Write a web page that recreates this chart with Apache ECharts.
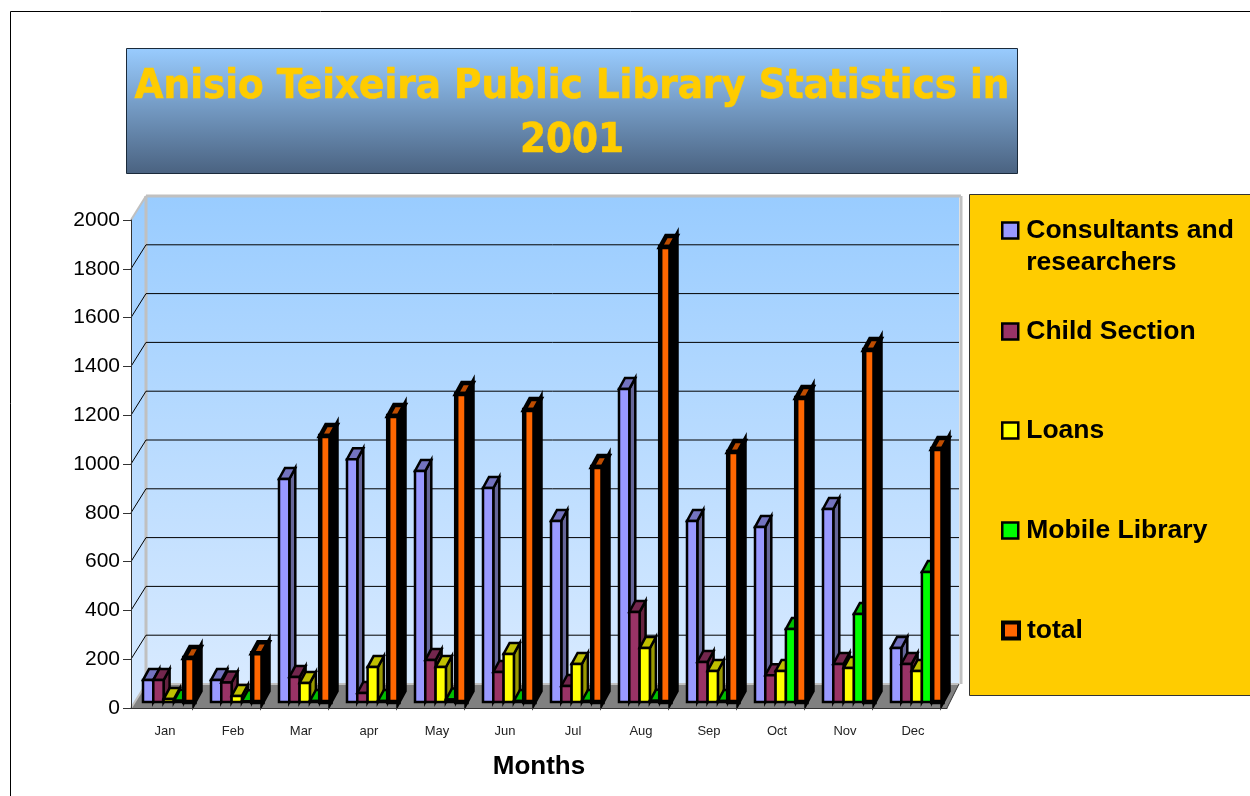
<!DOCTYPE html>
<html>
<head>
<meta charset="utf-8">
<title>Anisio Teixeira Public Library Statistics in 2001</title>
<style>
  html, body { margin: 0; padding: 0; background: #fff; }
  #chart { width: 1250px; height: 796px; }
</style>
</head>
<body>
<div id="chart"></div>
<script src="https://cdn.jsdelivr.net/npm/echarts@6/dist/echarts.min.js"></script>
<script>
const months = ['Jan', 'Feb', 'Mar', 'apr', 'May', 'Jun', 'Jul', 'Aug', 'Sep', 'Oct', 'Nov', 'Dec'];
const seriesNames = ['Consultants and\nresearchers', 'Child Section', 'Loans', 'Mobile Library', 'total'];
const consultants = [90, 90, 914, 995, 947, 877, 742, 1283, 742, 717, 791, 221];
const childSection = [90, 80, 102, 37, 172, 123, 66, 369, 164, 110, 156, 156];
const loans = [12, 25, 78, 143, 143, 197, 156, 221, 127, 127, 139, 127];
const mobileLibrary = [5, 3, 4, 4, 10, 4, 4, 5, 4, 299, 361, 533];
const total = [180, 200, 1090, 1172, 1262, 1197, 963, 1865, 1025, 1246, 1443, 1037];
const yTicks = [200, 400, 600, 800, 1000, 1200, 1400, 1600, 1800];

const frontColors = ['#9999FF', '#993366', '#FFFF00', '#00FF00', '#FF6600'];
const topColors = ['#7373BF', '#73264D', '#BFBF00', '#00BF00', '#BF4D00'];
const sideColors = ['#666699', '#66223F', '#999900', '#009900', '#000000'];
const lineWidths = [2.5, 2.5, 2.5, 2.5, 4.5];
const legendTops = [180, 313, 412, 512, 612];

const wallBackLeft = 15;
const wallBackRight = 12;
const wallRise = 24;
const barWidth = 10.3;
const barDepthX = 6;
const barDepthY = 11;
const barLift = 6;
const barStart = 12;

const wallFill = new echarts.graphic.LinearGradient(0, 0, 0, 1, [
  { offset: 0, color: '#99CCFF' },
  { offset: 1, color: '#D8EAFF' },
]);

// walls and floor, positions come from the axis scales
function renderWalls(params, api) {
  const origin = api.coord([0, 0]);
  const band = api.size([1, 0])[0];
  const x0 = origin[0] - band / 2;
  const x1 = x0 + band * months.length;
  const y0 = origin[1];
  const yTop = api.coord([0, 2000])[1];
  const bx0 = x0 + wallBackLeft;
  const bx1 = x1 + wallBackRight;
  const gray = '#C0C0C0';
  const poly = (points, style) => ({ type: 'polygon', shape: { points }, style });
  const line = (x1, y1, x2, y2, stroke, lineWidth) => ({
    type: 'line',
    shape: { x1, y1, x2, y2 },
    style: { stroke, lineWidth },
  });
  return {
    type: 'group',
    children: [
      poly([[bx0, yTop - wallRise], [bx1, yTop - wallRise], [bx1, y0 - wallRise], [bx0, y0 - wallRise]], { fill: wallFill }),
      poly([[x0, yTop], [bx0, yTop - wallRise], [bx0, y0 - wallRise], [x0, y0]], { fill: wallFill }),
      poly([[x0, y0], [bx0, y0 - wallRise], [bx1, y0 - wallRise], [x1, y0]], { fill: '#808080' }),
      line(bx0, yTop - wallRise, bx1 + 2, yTop - wallRise, gray, 3),
      line(bx0, yTop - wallRise, bx0, y0 - wallRise, gray, 3),
      line(bx1 + 2, yTop - wallRise, bx1 + 2, y0 - wallRise, gray, 3),
      line(x0, yTop, bx0, yTop - wallRise, gray, 2),
      line(x0, y0, bx0, y0 - wallRise, gray, 2),
      line(bx0, y0 - wallRise, bx1, y0 - wallRise, gray, 2),
      line(x1, y0, bx1, y0 - wallRise, '#333', 1),
    ],
  };
}

function renderGridLine(params, api) {
  const p = api.coord([0, api.value(1)]);
  const band = api.size([1, 0])[0];
  const x0 = p[0] - band / 2;
  const x1 = x0 + band * months.length;
  const style = { stroke: '#000', lineWidth: 1 };
  return {
    type: 'group',
    children: [
      { type: 'line', shape: { x1: x0 + wallBackLeft, y1: p[1] - wallRise, x2: x1 + wallBackRight, y2: p[1] - wallRise }, style },
      { type: 'line', shape: { x1: x0, y1: p[1], x2: x0 + wallBackLeft, y2: p[1] - wallRise }, style },
    ],
  };
}

function barRenderer(idx) {
  return function (params, api) {
    const top = api.coord([api.value(0), api.value(1)]);
    const base = api.coord([api.value(0), 0]);
    const band = api.size([1, 0])[0];
    const x0 = top[0] - band / 2 + barStart + barWidth * idx;
    const x1 = x0 + barWidth;
    const yb = base[1] - barLift;
    const yt = top[1] - barLift;
    const edge = { stroke: '#000', lineWidth: lineWidths[idx], lineJoin: 'miter' };
    return {
      type: 'group',
      children: [
        {
          type: 'polygon',
          shape: { points: [[x1, yb], [x1 + barDepthX, yb - barDepthY], [x1 + barDepthX, yt - barDepthY], [x1, yt]] },
          style: { fill: sideColors[idx], ...edge },
        },
        {
          type: 'polygon',
          shape: { points: [[x0, yt], [x1, yt], [x1 + barDepthX, yt - barDepthY], [x0 + barDepthX, yt - barDepthY]] },
          style: { fill: topColors[idx], ...edge },
        },
        {
          type: 'polygon',
          shape: { points: [[x0, yb], [x1, yb], [x1, yt], [x0, yt]] },
          style: { fill: frontColors[idx], ...edge },
        },
      ],
    };
  };
}

const barData = [consultants, childSection, loans, mobileLibrary, total];

// marker sits beside the first line of a wrapped name, so wrapped names get an empty line on top
function legendLabel(name) {
  const lines = name.split('\n').map((l) => `{t|${l}}`);
  if (lines.length > 1) lines.unshift('{t| }');
  return lines.join('\n');
}

const chart = echarts.init(document.getElementById('chart'), null, { renderer: 'canvas' });
chart.setOption({
  animation: false,
  backgroundColor: '#fff',
  textStyle: { fontFamily: 'Liberation Sans' },
  title: {
    text: 'Anisio Teixeira Public Library Statistics in\n2001',
    left: 567,
    top: 55,
    textAlign: 'center',
    textStyle: {
      color: '#FFCC00',
      fontFamily: '"DejaVu Sans Condensed", "DejaVu Sans"',
      fontSize: 41.6,
      fontWeight: 'bold',
      textBorderColor: '#FFCC00',
      textBorderWidth: 0.6,
      lineHeight: 54,
    },
    z: 10,
  },
  legend: seriesNames.map((name, i) => ({
    left: 996,
    top: legendTops[i],
    orient: 'vertical',
    icon: 'rect',
    itemWidth: 16,
    itemHeight: 16,
    itemGap: 0,
    selectedMode: false,
    data: [{
      name,
      itemStyle: { color: frontColors[i], borderColor: '#000', borderWidth: i === 4 ? 4 : 2.5 },
    }],
    formatter: legendLabel,
    textStyle: {
      color: '#000',
      rich: {
        t: {
          color: '#000',
          fontFamily: 'Liberation Sans',
          fontSize: 26.5,
          fontWeight: 'bold',
          lineHeight: 32,
          padding: [0, 0, 0, 3],
        },
      },
    },
  })),
  grid: { left: 131, top: 220, width: 816, height: 488, containLabel: false },
  xAxis: {
    type: 'category',
    data: months,
    z: 5,
    name: 'Months',
    nameLocation: 'middle',
    nameGap: 46,
    nameTextStyle: { color: '#000', fontSize: 26, fontWeight: 'bold', fontFamily: 'Liberation Sans' },
    axisLine: { lineStyle: { color: '#333', width: 1 } },
    axisTick: { alignWithLabel: false, length: 8, lineStyle: { color: '#333' } },
    axisLabel: { color: '#222', fontSize: 13, margin: 17, fontFamily: 'Liberation Sans' },
  },
  yAxis: {
    type: 'value',
    min: 0,
    max: 2000,
    interval: 200,
    z: 5,
    splitLine: { show: false },
    axisLine: { show: true, lineStyle: { color: '#333', width: 1 } },
    axisTick: { show: true, length: 8, lineStyle: { color: '#333' } },
    axisLabel: { color: '#000', fontSize: 21, margin: 11, fontFamily: 'Liberation Sans', formatter: (v) => String(v) },
  },
  graphic: [
    { type: 'line', shape: { x1: 10.5, y1: 11.5, x2: 1250, y2: 11.5 }, style: { stroke: '#000', lineWidth: 1 }, silent: true },
    { type: 'line', shape: { x1: 10.5, y1: 11.5, x2: 10.5, y2: 796 }, style: { stroke: '#000', lineWidth: 1 }, silent: true },
    {
      type: 'rect',
      shape: { x: 126.5, y: 48.5, width: 891, height: 125 },
      style: {
        stroke: '#1A2A3A',
        lineWidth: 1,
        fill: new echarts.graphic.LinearGradient(0, 0, 0, 1, [
          { offset: 0, color: '#99CCFF' },
          { offset: 1, color: '#4A6280' },
        ]),
      },
      z: -1,
      silent: true,
    },
    {
      type: 'rect',
      shape: { x: 969.5, y: 194.5, width: 285, height: 501 },
      style: { stroke: '#333', lineWidth: 1, fill: '#FFCC00' },
      z: -1,
      silent: true,
    },
  ],
  series: [
    {
      type: 'custom',
      name: 'walls',
      z: 1,
      silent: true,
      renderItem: renderWalls,
      clip: false,
      data: [[0, 0]],
      encode: { x: 0, y: 1 },
    },
    {
      type: 'custom',
      name: 'gridlines',
      z: 1,
      silent: true,
      renderItem: renderGridLine,
      clip: false,
      data: yTicks.map((v) => [0, v]),
      encode: { x: 0, y: 1 },
    },
    ...seriesNames.map((name, i) => ({
      type: 'custom',
      name,
      z: 2,
      silent: true,
      clip: false,
      renderItem: barRenderer(i),
      itemStyle: { color: frontColors[i] },
      data: barData[i].map((v, m) => [m, v]),
      encode: { x: 0, y: 1 },
    })),
  ],
});
</script>
</body>
</html>
